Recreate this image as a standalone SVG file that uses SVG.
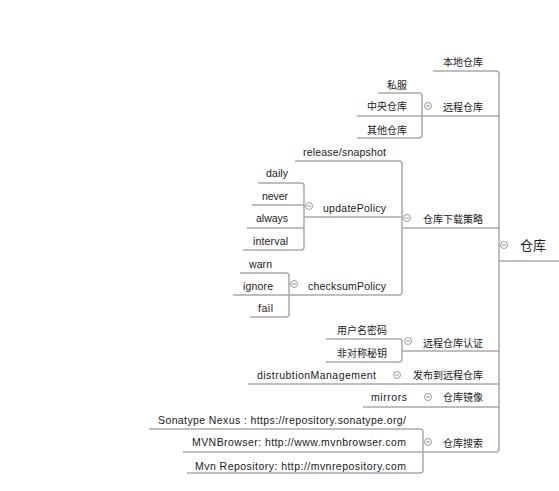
<svg xmlns="http://www.w3.org/2000/svg" width="559" height="491" viewBox="0 0 559 491">
<style>
.t{font-family:"Liberation Sans","Noto Sans CJK SC",sans-serif;font-size:10.5px;fill:#1a1a1a;text-anchor:end}
.c{font-family:"Noto Sans CJK SC","Liberation Sans",sans-serif;font-size:10px;fill:#1a1a1a;text-anchor:end}
.r{font-family:"Noto Sans CJK SC","Liberation Sans",sans-serif;font-size:13px;fill:#1a1a1a}
.ln{fill:none;stroke:#a9a9a9;stroke-width:1.5}
.tog circle{fill:#fff;stroke:#9a9a9a;stroke-width:1}
.tog line{stroke:#9a9a9a;stroke-width:1}
</style>
<defs>
<g id="toggle" class="tog"><circle cx="0" cy="0" r="3.5"/><line x1="-2" y1="0" x2="2" y2="0"/></g>
</defs>
<rect width="559" height="491" fill="#fff"/>
<g id="connectors">
<path class="ln" d="M433,71 H496 Q499,71 499,74 V449 Q499,452 496,452 H423"/>
<path class="ln" d="M499,261 H559"/>
<path class="ln" d="M357,116 H499"/>
<path class="ln" d="M403,228 H499"/>
<path class="ln" d="M402,351 H499"/>
<path class="ln" d="M248,384 H499"/>
<path class="ln" d="M363,407 H499"/>
<path class="ln" d="M378,93 H419 Q422,93 422,96 V135 Q422,138 419,138 H357"/>
<path class="ln" d="M295,161 H399 Q402,161 402,164 V292 Q402,295 399,295 H290"/>
<path class="ln" d="M304,217 H402"/>
<path class="ln" d="M258,183 H301 Q304,183 304,186 V247 Q304,250 301,250 H243"/>
<path class="ln" d="M252,205 H304"/>
<path class="ln" d="M247,228 H304"/>
<path class="ln" d="M240,273 H286 Q289,273 289,276 V314 Q289,317 286,317 H250"/>
<path class="ln" d="M233,295 H290"/>
<path class="ln" d="M326,339 H399 Q402,339 402,342 V359 Q402,362 399,362 H326"/>
<path class="ln" d="M149,429 H420 Q423,429 423,432 V470 Q423,473 420,473 H187"/>
<path class="ln" d="M183,452 H423"/>
</g>
<g id="root"><use href="#toggle" x="504" y="245"/><text class="r" x="520" y="250">仓库</text></g>
<g id="local"><text class="c" x="483" y="66">本地仓库</text></g>
<g id="remote"><use href="#toggle" x="428" y="106"/><text class="c" x="483" y="111">远程仓库</text></g>
<g id="private"><text class="c" x="407" y="89">私服</text></g>
<g id="central"><text class="c" x="407" y="110">中央仓库</text></g>
<g id="other"><text class="c" x="407" y="134">其他仓库</text></g>
<g id="download"><use href="#toggle" x="407" y="218"/><text class="c" x="483" y="223">仓库下载策略</text></g>
<g id="release"><text class="t" x="386" y="155.5" textLength="83" lengthAdjust="spacing">release/snapshot</text></g>
<g id="updatePolicy"><use href="#toggle" x="309" y="206"/><text class="t" x="386" y="211.5" textLength="63" lengthAdjust="spacing">updatePolicy</text></g>
<g id="daily"><text class="t" x="288" y="176.5" textLength="22" lengthAdjust="spacing">daily</text></g>
<g id="never"><text class="t" x="288" y="199.5" textLength="26" lengthAdjust="spacing">never</text></g>
<g id="always"><text class="t" x="288" y="221.5" textLength="32" lengthAdjust="spacing">always</text></g>
<g id="interval"><text class="t" x="288" y="244.5" textLength="35" lengthAdjust="spacing">interval</text></g>
<g id="checksumPolicy"><use href="#toggle" x="294" y="284"/><text class="t" x="386" y="289.5" textLength="78" lengthAdjust="spacing">checksumPolicy</text></g>
<g id="warn"><text class="t" x="272" y="267.5" textLength="23" lengthAdjust="spacing">warn</text></g>
<g id="ignore"><text class="t" x="273" y="289.5" textLength="30" lengthAdjust="spacing">ignore</text></g>
<g id="fail"><text class="t" x="273" y="311.5" textLength="15" lengthAdjust="spacing">fail</text></g>
<g id="auth"><use href="#toggle" x="408" y="341"/><text class="c" x="483" y="347">远程仓库认证</text></g>
<g id="userpass"><text class="c" x="387" y="334">用户名密码</text></g>
<g id="asym"><text class="c" x="387" y="357">非对称秘钥</text></g>
<g id="publish"><use href="#toggle" x="397" y="375"/><text class="c" x="483" y="379">发布到远程仓库</text></g>
<g id="distMgmt"><text class="t" x="376" y="378.5" textLength="119" lengthAdjust="spacing">distrubtionManagement</text></g>
<g id="mirror"><use href="#toggle" x="428" y="397"/><text class="c" x="483" y="401">仓库镜像</text></g>
<g id="mirrors"><text class="t" x="407" y="400.5" textLength="36" lengthAdjust="spacing">mirrors</text></g>
<g id="search"><use href="#toggle" x="428" y="442"/><text class="c" x="483" y="447">仓库搜索</text></g>
<g id="nexus"><text class="t" x="406" y="423.5" textLength="248" lengthAdjust="spacing">Sonatype Nexus : https://repository.sonatype.org/</text></g>
<g id="mvnbrowser"><text class="t" x="406" y="445.5" textLength="214" lengthAdjust="spacing">MVNBrowser: http://www.mvnbrowser.com</text></g>
<g id="mvnrepo"><text class="t" x="406" y="469.5" textLength="211" lengthAdjust="spacing">Mvn Repository: http://mvnrepository.com</text></g>
</svg>
